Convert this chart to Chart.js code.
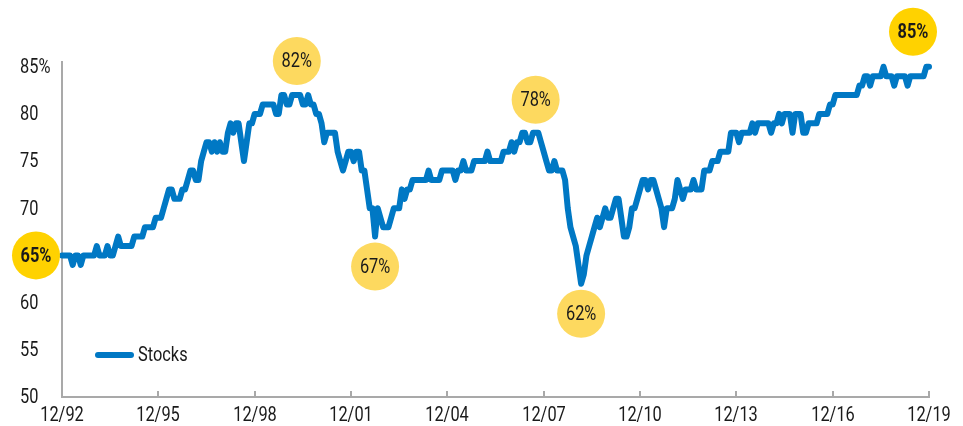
<!DOCTYPE html>
<html>
<head>
<meta charset="utf-8">
<title>Stocks</title>
<script src="https://cdn.jsdelivr.net/npm/chart.js@4.4.1/dist/chart.umd.min.js"></script>
<style>
  html, body { margin: 0; padding: 0; background: #ffffff; }
  #caja { width: 963px; height: 426px; }
</style>
</head>
<body>
<div id="caja"><canvas id="miGrafica" width="963" height="426"></canvas></div>
<script>
// Serie mensual, primer punto = 12/92, ultimo = 12/19 (una fila por año, de diciembre a noviembre)
const stocks = [
  65,65,65,65,64,65,65,64,65,65,65,65,
  65,66,65,65,65,66,65,65,66,67,66,66,
  66,66,66,67,67,67,67,68,68,68,68,69,
  69,69,70,71,72,72,71,71,71,72,72,73,
  74,74,73,73,75,76,77,77,76,77,76,77,
  76,76,78,79,78,79,79,77,75,77,79,79,
  80,80,80,81,81,81,81,81,80,80,82,82,
  81,81,82,82,82,82,81,81,82,81,81,80,
  80,79,77,78,78,78,78,76,75,74,75,76,
  76,75,76,76,74,74,72,70,70,67,70,69,
  68,68,68,69,70,70,70,72,71,72,72,73,
  73,73,73,73,73,74,73,73,73,73,74,74,
  74,74,74,73,74,74,75,74,74,74,75,75,
  75,75,75,76,75,75,75,75,75,76,76,76,
  77,76,77,77,78,78,77,77,78,78,78,77,
  76,75,74,74,75,74,74,74,73,70,68,67,
  66,64,62,63,65,66,67,68,69,68,69,70,
  69,69,70,71,71,69,67,67,68,70,70,71,
  72,73,73,72,73,73,72,71,70,68,70,70,
  70,71,73,72,71,72,72,72,73,72,72,72,
  74,74,74,75,75,75,76,76,76,76,78,78,
  78,77,78,78,78,78,79,78,79,79,79,79,
  79,78,79,79,80,79,80,80,80,78,80,80,
  80,78,78,79,79,79,79,80,80,80,80,81,
  81,82,82,82,82,82,82,82,82,82,83,83,
  84,84,83,84,84,84,84,85,84,84,84,83,
  84,84,84,84,83,84,84,84,84,84,84,85,
  85
];

const xTickLabels = ['12/92', '12/95', '12/98', '12/01', '12/04', '12/07', '12/10', '12/13', '12/16', '12/19'];
const yTickValues = [50, 55, 60, 65, 70, 75, 80, 85];
const yTickLabels = ['50', '55', '60', '65', '70', '75', '80', '85%'];

// Burbujas: posicion en la serie y texto
const burbujaIdx = [0, 87, 117, 177, 194, 324];
const burbujaTexto = ['65%', '82%', '67%', '78%', '62%', '85%'];

// Etiquetas mensuales mm/aa
const meses = stocks.map((v, i) => {
  const m = (11 + i) % 12 + 1;
  const a = (1992 + Math.floor((11 + i) / 12)) % 100;
  return String(m).padStart(2, '0') + '/' + String(a).padStart(2, '0');
});

const fuente = 'Roboto, "Liberation Sans", sans-serif';
const azul = '#0078c4';
const gris = '#a9a9a9';
const texto = '#1a1a1a';

// estilo de las burbujas (desplazamiento en px respecto al punto)
const burbujaDx = [-26, 2, 0, 0, 0, -16];
const burbujaDy = [0, -34, 30, -33, 30, -35];
const burbujaFuerte = [true, false, false, false, false, true];

// texto estrecho (la fuente original es condensada)
function escribir(ctx, s, x, y, align, bold) {
  ctx.save();
  ctx.font = (bold ? 'bold ' : '') + '21px ' + fuente;
  ctx.fillStyle = texto;
  ctx.textAlign = align;
  ctx.textBaseline = 'middle';
  ctx.translate(x, y);
  ctx.scale(0.78, 1);
  ctx.fillText(s, 0, 0);
  ctx.restore();
}

const extras = {
  id: 'extras',
  afterDatasetsDraw(chart) {
    const { ctx, chartArea, scales } = chart;
    const x = scales.x, y = scales.y;
    ctx.save();

    // marcas del eje x hacia dentro + etiquetas
    ctx.strokeStyle = gris;
    ctx.lineWidth = 2;
    for (let i = 0; i < stocks.length; i += 36) {
      const px = Math.round(x.getPixelForValue(i));
      ctx.beginPath();
      ctx.moveTo(px, chartArea.bottom);
      ctx.lineTo(px, chartArea.bottom - 6);
      ctx.stroke();
      escribir(ctx, xTickLabels[i / 36], px, chartArea.bottom + 19, 'center', false);
    }

    // etiquetas del eje y
    yTickValues.forEach((v, k) => {
      escribir(ctx, yTickLabels[k], 20, y.getPixelForValue(v) + 1, 'left', false);
    });

    // leyenda dentro del grafico
    const ds = chart.data.datasets[0];
    ctx.strokeStyle = ds.borderColor;
    ctx.lineWidth = 6;
    ctx.lineCap = 'round';
    ctx.beginPath();
    ctx.moveTo(98, 355);
    ctx.lineTo(131, 355);
    ctx.stroke();
    escribir(ctx, ds.label, 138, 356, 'left', false);

    // burbujas
    burbujaIdx.forEach((idx, k) => {
      const cx = x.getPixelForValue(idx) + burbujaDx[k];
      const cy = y.getPixelForValue(stocks[idx]) + burbujaDy[k];
      ctx.beginPath();
      ctx.arc(cx, cy, 24, 0, Math.PI * 2);
      ctx.fillStyle = burbujaFuerte[k] ? '#ffd200' : '#fdd95f';
      ctx.fill();
      escribir(ctx, burbujaTexto[k], cx, cy + 1, 'center', burbujaFuerte[k]);
    });
    ctx.restore();
  }
};

let ctx = document.getElementById('miGrafica').getContext('2d');
let miGrafica = new Chart(ctx, {
  type: 'line',
  data: {
    labels: meses,
    datasets: [{
      label: 'Stocks',
      data: stocks,
      borderColor: azul,
      borderWidth: 6,
      pointRadius: 0,
      tension: 0,
      borderJoinStyle: 'round',
      borderCapStyle: 'round',
      clip: false
    }]
  },
  options: {
    responsive: false,
    animation: false,
    layout: { padding: { top: 62, left: 20, right: 34, bottom: 0 } },
    plugins: {
      legend: { display: false },
      tooltip: { enabled: false }
    },
    scales: {
      x: {
        type: 'category',
        offset: false,
        border: { display: true, color: gris, width: 2 },
        grid: { drawOnChartArea: false, drawTicks: false },
        ticks: { display: false, autoSkip: false, maxRotation: 0 },
        afterFit: (scale) => { scale.height = 29; }
      },
      y: {
        min: 50,
        max: 85.5,
        border: { display: true, color: gris, width: 2 },
        grid: { drawOnChartArea: false, drawTicks: false },
        afterBuildTicks: (scale) => { scale.ticks = yTickValues.map(v => ({ value: v })); },
        ticks: { display: false },
        afterFit: (scale) => { scale.width = 42; }
      }
    }
  },
  plugins: [extras]
});
</script>
</body>
</html>
